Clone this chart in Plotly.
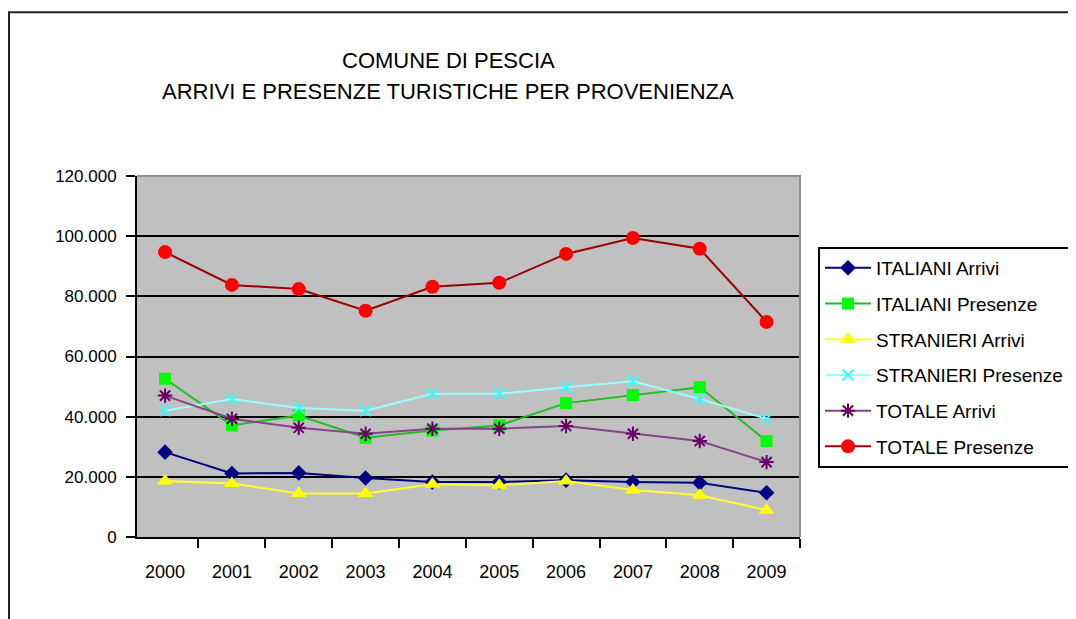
import plotly.graph_objects as go

years = ["2000", "2001", "2002", "2003", "2004", "2005", "2006", "2007", "2008", "2009"]
italiani_arrivi = [28200, 21100, 21300, 19600, 18300, 18300, 18900, 18300, 18000, 14700]
italiani_presenze = [52600, 37100, 40400, 33000, 35400, 37100, 44500, 47200, 49800, 31900]
stranieri_arrivi = [18600, 17800, 14500, 14500, 17500, 17200, 18600, 15600, 13900, 8900]
stranieri_presenze = [42000, 45900, 42900, 42000, 47600, 47600, 49800, 51800, 45900, 39300]
totale_arrivi = [47000, 39300, 36300, 34300, 36000, 36000, 36900, 34300, 31900, 24900]
totale_presenze = [94700, 83800, 82400, 75200, 83200, 84500, 94100, 99400, 95800, 71500]

title_lines = ["COMUNE DI PESCIA", "ARRIVI E PRESENZE TURISTICHE PER PROVENIENZA"]

series = [
    ("ITALIANI Arrivi", italiani_arrivi, "#000080", "#000080", "diamond", 12),
    ("ITALIANI Presenze", italiani_presenze, "#22BB22", "#00FF00", "square", 12),
    ("STRANIERI Arrivi", stranieri_arrivi, "#FFFF33", "#FFFF00", "triangle-up", 14),
    ("STRANIERI Presenze", stranieri_presenze, "#99FFFF", "#33FFFF", "x-thin", 11),
    ("TOTALE Arrivi", totale_arrivi, "#884488", "#660066", "asterisk", 12),
    ("TOTALE Presenze", totale_presenze, "#990000", "#FF0000", "circle", 14),
]

FONT = "Liberation Sans, Arial, sans-serif"

# the page body has an 8px margin; work in page pixels and shift
OFF = 8
W, H = 1076 - OFF, 619 - OFF
L, R, T, B = 137 - OFF, 800 - OFF, 176 - OFF, 537.5 - OFF


def px_x(x):
    return (x - OFF - L) / (R - L)


def px_y(y):
    return (B - (y - OFF)) / (B - T)


fig = go.Figure()
for i, (name, vals, lc, mc, sym, sz) in enumerate(series):
    fig.add_trace(go.Scatter(
        x=years, y=vals, name=name, mode="lines+markers",
        legendgroup=f"g{i}",
        line=dict(color=lc, width=2),
        marker=dict(symbol=sym, size=sz, color=mc,
                    line=dict(color=mc, width=2 if sym in ("x-thin", "asterisk") else 0)),
    ))

fig.update_layout(
    width=W, height=H,
    margin=dict(l=L, r=W - R, t=T, b=H - B, pad=0, autoexpand=False),
    paper_bgcolor="white",
    plot_bgcolor="#C0C0C0",
    font=dict(family=FONT, size=17, color="black"),
    separators=",.",
    showlegend=True,
    legend=dict(
        xref="container", yref="container",
        x=(818 - OFF) / W, y=1 - (247 - OFF) / H,
        xanchor="left", yanchor="top",
        bgcolor="white", bordercolor="black", borderwidth=2,
        font=dict(family=FONT, size=19, color="black"),
        itemwidth=46, traceorder="grouped", tracegroupgap=8,
    ),
    xaxis=dict(
        type="category", range=[-0.42, 9.5],
        showline=True, linecolor="black", linewidth=2,
        ticks="outside", ticklen=9, tickwidth=2, tickcolor="black",
        tickson="boundaries", showgrid=False, zeroline=False,
        tickfont=dict(family=FONT, size=18, color="black"),
        ticklabelstandoff=17,
    ),
    yaxis=dict(
        range=[0, 120000], dtick=20000, tickformat=",d",
        showline=True, linecolor="black", linewidth=2,
        ticks="outside", ticklen=9, tickwidth=2, tickcolor="black",
        showgrid=True, gridcolor="black", gridwidth=2, zeroline=False,
        tickfont=dict(family=FONT, size=17, color="black"),
        ticklabelstandoff=6,
    ),
)

# plot-area border on top and right (grey)
fig.add_shape(type="path", xref="paper", yref="paper",
              path="M 0,1 L 1,1 L 1,0", line=dict(color="#909090", width=2), layer="above")
# outer chart frame
fig.add_shape(type="rect", xref="paper", yref="paper",
              x0=px_x(9), x1=px_x(1100),
              y0=px_y(660), y1=px_y(12),
              line=dict(color="#222222", width=2), layer="below")

for txt, ypx in zip(title_lines, [60, 91]):
    fig.add_annotation(text=txt, xref="paper", yref="paper",
                       x=px_x(448), y=px_y(ypx),
                       xanchor="center", yanchor="middle", showarrow=False,
                       font=dict(family=FONT, size=22, color="black"))

fig.write_html("out.html")
